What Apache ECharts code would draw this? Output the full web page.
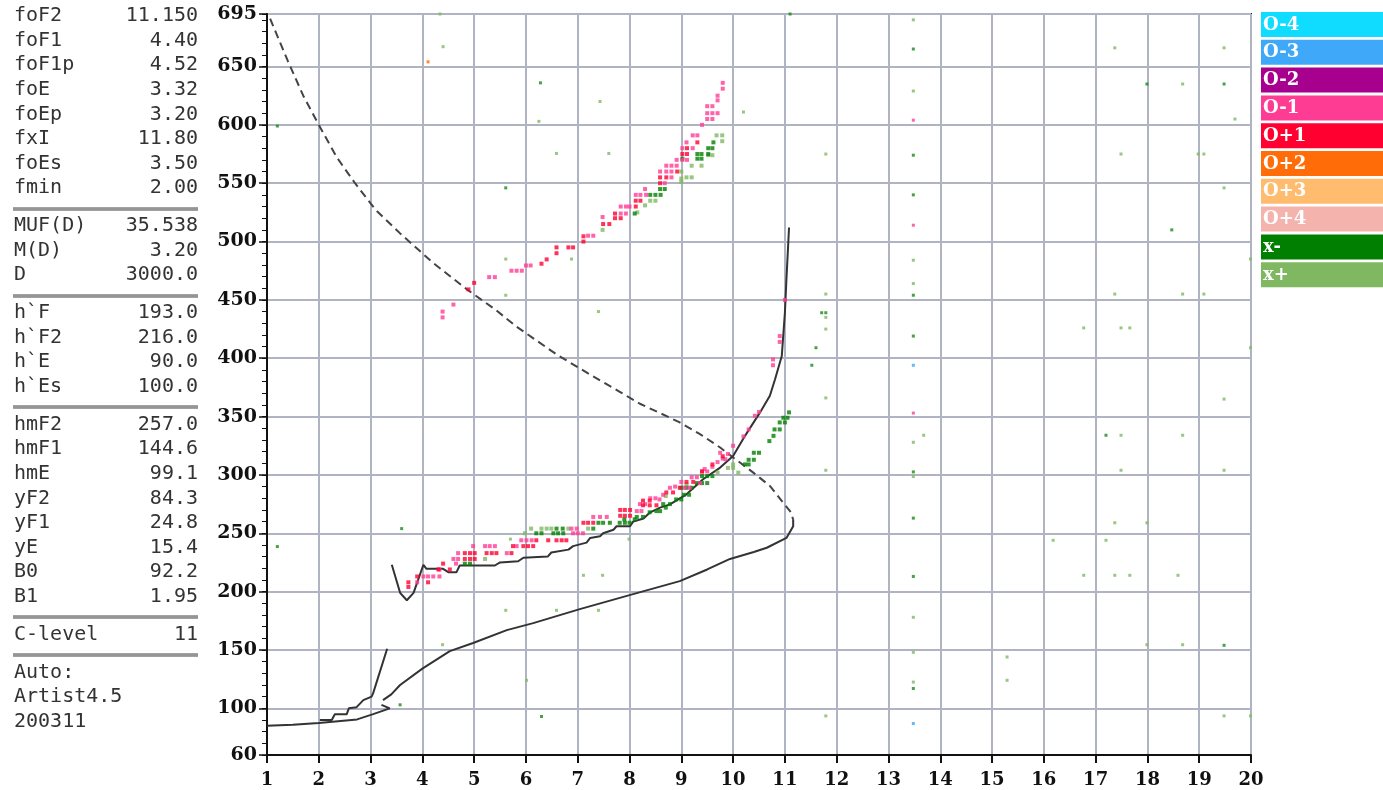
<!DOCTYPE html>
<html>
<head>
<meta charset="utf-8">
<script src="https://cdn.jsdelivr.net/npm/echarts@6/dist/echarts.min.js"></script>
<style>
html,body{margin:0;padding:0;background:#fff;}
#chart{width:1383px;height:790px;}
</style>
</head>
<body>
<div id="chart"></div>
<script>
// ---------- data ----------
const heightTicks = [60,100,150,200,250,300,350,400,450,500,550,600,650,695];

const panelLabels = [
  ['foF2','foF1','foF1p','foE','foEp','fxI','foEs','fmin'],
  ['MUF(D)','M(D)','D'],
  ["h`F","h`F2","h`E","h`Es"],
  ['hmF2','hmF1','hmE','yF2','yF1','yE','B0','B1'],
  ['C-level'],
  ['Auto:','Artist4.5','200311']
];
const panelValues = [
  ['11.150','4.40','4.52','3.32','3.20','11.80','3.50','2.00'],
  ['35.538','3.20','3000.0'],
  ['193.0','216.0','90.0','100.0'],
  ['257.0','144.6','99.1','84.3','24.8','15.4','92.2','1.95'],
  ['11'],
  ['','','']
];

const legendNames  = ['O-4','O-3','O-2','O-1','O+1','O+2','O+3','O+4','x-','x+'];
const legendColors = ['#10dcff','#40a8f8','#a8008e','#ff3c94','#ff0030','#ff6c08','#ffbb6e','#f4b3ad','#007f00','#80b862'];

const profileDashed = [[1.06,691],[1.4,655],[1.7,625],[2.0,600],[2.35,572],[2.7,550],[3.1,527],[3.57,507],[4.2,482],[4.86,459],[5.4,442],[5.82,427],[6.6,403],[7.2,387],[7.82,371],[8.2,361],[8.59,353],[8.97,345],[9.36,335],[9.75,323.5],[10.0,315],[10.39,302],[10.71,290.6],[10.97,276],[11.1,269],[11.16,262]];
const profileSolid = [[11.16,262],[11.16,256],[11.03,246],[10.65,237.6],[10.4,234],[9.94,228],[9.5,219],[8.97,209],[8.0,197],[7.04,185],[6.14,173],[5.63,167],[4.98,156],[4.53,149],[4.0,134],[3.57,120],[3.4,112],[3.24,107]];
const baseLine = [[1.0,85],[1.5,86],[2.0,87.5],[2.74,90.5],[3.05,95],[3.37,100],[3.21,103]];
const eTrace = [[2.02,90],[2.25,90],[2.31,95],[2.54,95],[2.58,100],[2.73,101],[2.86,107],[3.02,110],[3.05,113],[3.32,151]];
const fTrace = [[3.41,223],[3.57,199],[3.70,192.6],[3.83,199],[4.02,223],[4.08,219.5],[4.40,219.5],[4.50,216.7],[4.66,216.7],[4.72,222.4],[5.40,222.4],[5.50,225],[5.85,226],[5.95,229],[6.42,230],[6.49,233.5],[6.82,236],[6.91,239],[7.17,242],[7.24,246],[7.43,247.5],[7.49,250],[7.69,253],[7.75,256],[8.01,256],[8.07,260],[8.27,262.7],[8.40,268],[8.59,272],[8.78,274.8],[9.1,283.4],[9.42,296.3],[9.75,306.3],[10.0,316.3],[10.23,333.5],[10.52,353.6],[10.71,367.8],[10.81,382],[10.94,402],[11.0,439],[11.03,468],[11.08,512]];

const oPlus1 = [[3.73,208],[3.73,204],[3.9,213],[4.11,208],[4.31,219],[4.4,224],[4.53,219],
  [4.82,233],[4.92,233],[5.01,233],[4.82,228],[4.92,228],[5.01,228],
  [5.24,233],[5.34,233],[5.43,233],[5.72,233],[5.75,239],[5.95,239],[6.04,239],[6.14,239],
  [6.2,244],[6.43,244],[6.59,244],[6.69,244],[6.78,244],
  [7.11,259],[7.2,259],[7.3,259],
  [7.82,270],[7.91,270],[8.01,270],[7.82,265],[7.91,265],[8.01,265],
  [8.26,278],[8.39,278],[8.26,274],[8.39,274],[8.52,274],
  [8.71,285],[8.84,285],[8.97,289],[9.1,294],[9.23,294],[9.4,303],[9.6,309],[9.8,316],
  [4.89,459],[5.0,464.6],[6.3,481],[6.4,484.7],[6.59,495],[6.59,490],[6.82,495],[6.91,495],[7.11,500],[7.11,504.5],
  [7.49,515],[7.61,515],[7.72,524],[7.72,520],[7.83,520],[8.12,535],[8.21,535],[8.12,530],[8.59,550],[8.59,555],
  [8.71,555],[8.92,560],[9.02,575],[9.11,575],[9.11,580],[9.31,585]];

const oMinus1 = [[3.9,208],[4.02,213],[4.11,213],[4.21,213],[4.33,213],[4.33,219],[4.65,224],[4.6,228],[4.69,228],[4.69,233],
  [4.98,239],[5.21,239],[5.3,239],[5.4,239],[5.63,233],[5.82,239],[5.91,244],[6.01,244],[6.11,244],
  [6.88,254],[6.98,254],[6.91,250],[7.0,250],[7.1,250],[7.3,264],[7.43,264],[7.56,264],[8.14,269],[8.23,269],
  [8.2,275],[8.3,275],[8.4,280],[8.5,280],[8.58,279],[8.65,283],[8.78,289],[8.88,290],[9.07,289],[9.16,289],
  [9.0,294],[9.2,298],[9.3,298],[9.36,293],[9.4,303],[9.5,303],[9.45,305],[9.6,307],[9.7,311],[9.8,314],[9.75,319],[9.9,318],
  [9.85,313.5],[10.0,325],[10.2,333],[10.3,339],[10.42,350.7],[10.5,354],[10.77,399],[10.77,394],[10.9,419],[10.9,414],[11.0,450],
  [4.39,440],[4.39,435],[4.6,446],[5.29,469.5],[5.4,469.5],[5.72,475],[5.82,475],[5.92,475],[6.0,479.5],[6.09,479.5],
  [7.2,505],[7.3,505],[7.48,521],[7.83,524],[7.93,524],[7.83,530],[7.93,530],[8.0,530],[8.12,540],[8.21,540],[8.32,540],
  [8.3,545],[8.68,550],[8.81,555],[8.59,560],[8.71,560],[8.81,560],[8.71,565],[8.81,565],[8.91,565],[8.91,570],
  [9.02,570],[9.11,570],[9.02,580],[9.22,580],[9.1,585],[9.22,591],[9.31,591],[9.4,600],[9.5,605],[9.6,605],
  [9.5,610],[9.6,610],[9.7,610],[9.5,616],[9.6,616],[9.7,621],[9.7,625],[9.8,631],[9.8,636]];

const xMinus = [[4.82,224],[4.92,224],[6.2,250],[6.3,250],[6.53,250],[6.62,250],[6.72,250],[6.59,254],[6.71,254],
  [7.3,254],[7.4,259],[7.49,259],[7.62,259],[7.81,259],[7.91,259],[8.0,259],[7.9,262],[8.1,262],[8.14,264],[8.26,264],
  [8.39,268],[8.52,269],[8.59,269],[8.7,272],[8.65,275],[8.78,275],[8.9,279],[9.0,279],[9.05,283],[9.15,283],
  [9.0,289],[9.1,289],[9.2,289],[9.3,293],[9.4,293],[9.5,293],[9.4,299],[9.5,299],[9.6,299],
  [10.23,309],[10.3,309],[10.3,313],[10.4,313],[10.4,319],[10.5,319],[10.7,329],[10.78,333.5],[10.8,339],[10.9,339],
  [10.9,345],[11.0,345],[10.97,349],[11.05,349],[11.08,353.6],
  [8.1,524],[8.4,540],[8.5,540],[8.6,540],[8.59,545],[8.68,545],[9.02,571],[9.31,575],[9.39,575],[9.31,571],
  [9.39,571],[9.52,580],[9.6,580],[9.52,575],[9.62,585]];

const xPlus = [[5.21,228],[5.98,250],[6.3,254],[6.4,254],[6.49,254],[6.82,254],[6.1,254],[7.2,254],[8.7,282],[9.1,292],
  [9.7,302],[9.9,306],[10.0,306],[10.0,309],[10.1,302],
  [8.15,525],[7.48,510],[8.4,535],[8.5,535],[8.3,531],[9.0,560],[9.0,554],[9.2,565],[9.39,565],[9.2,555],[9.1,555],
  [9.0,551],[9.52,574],[9.6,574],[9.68,591],[9.79,591],[9.79,586]];

const xMinusSparse = [[1.2,599],[1.2,238.6],[3.6,254],[3.57,103],[11.1,695],[11.52,394],[11.6,409],[11.71,439],[11.79,439],
  [13.48,665],[13.48,574],[13.48,540],[13.48,454],[13.48,419],[13.48,302.6],[13.48,263],[13.48,213],[13.48,117],
  [17.99,635],[18.47,510],[19.48,154],[6.28,636],[5.61,546],[6.3,93],[17.2,334],[19.48,635]];

const xPlusSparse = [[4.34,695],[4.4,667],[6.25,603],[7.43,620],[6.59,575.5],[7.6,575.5],[5.61,485],[5.61,454],[6.88,485],
  [7.4,440],[10.2,611],[6.01,124],[4.39,154.5],[5.7,245],[7.11,214],[7.48,214],[5.61,184],[6.59,184],[7.4,184],[7.99,245],
  [11.79,575],[11.79,455],[11.79,425],[11.79,435],[11.79,366],[11.79,304],[11.79,93.5],
  [13.48,690],[13.48,629],[13.48,484],[13.48,464],[13.48,328],[13.48,298.6],[13.48,178],[13.48,148],[13.48,122.5],[13.68,334],
  [17.37,666],[19.48,666],[19.48,546],[18.68,635],[19.69,605],[17.49,575],[18.98,575],[19.09,575],[17.37,455],
  [18.68,455],[19.09,455],[16.77,426],[17.49,426],[17.66,426],[19.99,485],[19.99,409],[17.49,334],[18.68,334],
  [17.49,304],[19.48,365],[19.48,304],[17.37,259],[17.99,259],[16.18,244],[17.2,244],[16.77,214],[17.37,214],
  [17.66,214],[18.59,214],[17.99,154.5],[18.68,154.5],[15.29,144],[15.29,124],[19.48,93.5],[19.99,93.5]];

const oMinus1Sparse = [[13.48,604],[13.48,514],[13.48,353]];
const oPlus2Sparse = [[4.11,654]];
const oMinus3Sparse = [[13.48,394],[13.48,87]];

// ---------- graphics: left panel & legend ----------
const graphics = [];
const monoFont = '20px "DejaVu Sans Mono"';
let y = 16;
const rowH = 24.6, groupGap = 37.8;
panelLabels.forEach((grp, gi) => {
  grp.forEach((lab, ri) => {
    graphics.push({type:'text', style:{text:lab, x:14, y:y, font:monoFont, fill:'#333', textAlign:'left', align:'left', textVerticalAlign:'middle', verticalAlign:'middle'}});
    const v = panelValues[gi][ri];
    if (v) graphics.push({type:'text', style:{text:v, x:198, y:y, font:monoFont, fill:'#333', textAlign:'right', align:'right', textVerticalAlign:'middle', verticalAlign:'middle'}});
    y += rowH;
  });
  y -= rowH;
  if (gi < panelLabels.length - 1) {
    const sy = Math.round(y + 20.5);
    graphics.push({type:'line', shape:{x1:13, y1:sy-1, x2:198, y2:sy-1}, style:{stroke:'#444', lineWidth:1}});
    graphics.push({type:'line', shape:{x1:13, y1:sy+1, x2:198, y2:sy+1}, style:{stroke:'#444', lineWidth:1}});
    graphics.push({type:'line', shape:{x1:13, y1:sy, x2:198, y2:sy}, style:{stroke:'#888', lineWidth:1}});
  }
  y += groupGap;
});
legendNames.forEach((name, i) => {
  const ty = 12 + i * 27.8;
  graphics.push({type:'rect', shape:{x:1261, y:ty, width:122, height:25}, style:{fill:legendColors[i]}});
  graphics.push({type:'text', style:{text:name, x:1263, y:ty + 13, font:'bold 18px "DejaVu Serif"', fill:'#fff', textAlign:'left', align:'left', textVerticalAlign:'middle', verticalAlign:'middle'}});
});

// ---------- chart ----------
const lineStyleBlack = {color:'#333', width:2};
function lineSeries(data, dashed) {
  return {type:'line', data:data, symbol:'none', smooth:false, silent:true,
    lineStyle: dashed ? {color:'#444', width:2, type:[8,5]} : lineStyleBlack, z:3};
}
function dotSeries(data, color, size) {
  return {type:'scatter', data:data, symbol:'rect', symbolSize:size, itemStyle:{color:color}, silent:true, z:4};
}

const chart = echarts.init(document.getElementById('chart'), null, {renderer:'canvas'});
chart.setOption({
  animation:false,
  backgroundColor:'#fff',
  grid:{left:267, top:14, right:132, bottom:35, show:true, borderColor:'#222', borderWidth:2, backgroundColor:'transparent'},
  xAxis:{type:'value', min:1, max:20, interval:1,
    axisLine:{lineStyle:{color:'#111', width:2}},
    axisTick:{length:8, lineStyle:{color:'#111', width:2}},
    axisLabel:{color:'#111', fontFamily:'DejaVu Serif', fontWeight:'bold', fontSize:18, margin:16},
    splitLine:{show:true, lineStyle:{color:'#b0b4c2', width:2}}},
  yAxis:[
    {type:'value', min:60, max:695, position:'left',
      axisLine:{show:true, lineStyle:{color:'#111', width:2}},
      axisTick:{show:true, length:8, customValues:heightTicks, lineStyle:{color:'#111', width:1.5}},
      axisLabel:{customValues:heightTicks, color:'#111', fontFamily:'DejaVu Serif', fontWeight:'bold', fontSize:19, margin:10},
      splitLine:{show:true, lineStyle:{color:'#b0b4c2', width:2}}},
    {type:'value', min:60, max:695, interval:10, position:'left',
      axisLine:{show:false}, axisLabel:{show:false}, splitLine:{show:false},
      axisTick:{show:true, length:5, lineStyle:{color:'#111', width:1}}}
  ],
  graphic:graphics,
  series:[
    lineSeries(profileDashed, true),
    lineSeries(profileSolid, false),
    lineSeries(baseLine, false),
    lineSeries(eTrace, false),
    lineSeries(fTrace, false),
    dotSeries(xPlusSparse, '#80b862', 3),
    dotSeries(xMinusSparse, '#1a8a1a', 3),
    dotSeries(oMinus1Sparse, '#ff3c94', 3),
    dotSeries(oPlus2Sparse, '#ff6c08', 3),
    dotSeries(oMinus3Sparse, '#40a8f8', 3),
    dotSeries(xPlus, '#80b862', 4),
    dotSeries(xMinus, '#007f00', 4),
    dotSeries(oMinus1, '#ff3c94', 4),
    dotSeries(oPlus1, '#ff0030', 4)
  ]
});
</script>
</body>
</html>
